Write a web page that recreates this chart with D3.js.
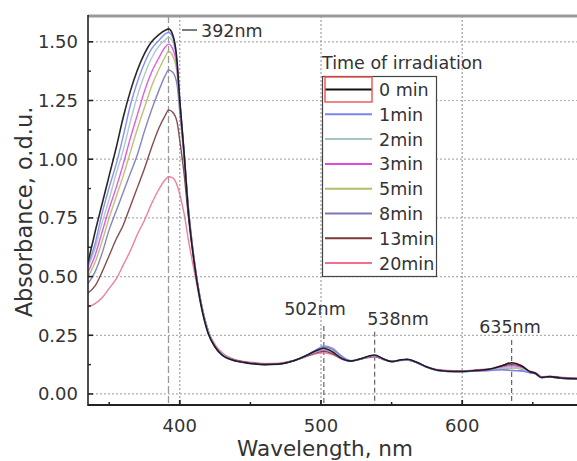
<!DOCTYPE html>
<html><head><meta charset="utf-8">
<script src="https://cdn.jsdelivr.net/npm/d3@7"></script>
<style>body{margin:0;background:#fff}svg{display:block}text{font-family:"DejaVu Sans",sans-serif;fill:#333}</style>
</head><body><svg id="c" width="577" height="461"></svg>
<script>
const wavelengths = [335,340,345,350,355,360,365,370,375,380,385,390,392,395,398,400,403,406,410,415,420,425,430,
  440,450,460,470,480,490,497,502,508,515,521,528,533,538,544,550,556,561,568,575,582,590,600,610,620,628,635,642,648,652,656,662,670,682];
const seriesNames = ["0 min","1min","2min","3min","5min","8min","13min","20min"];
const seriesColors = ["#111111","#7c84f0","#a4c4c8","#e048e0","#b4bc68","#7878b8","#783a3a","#f07090"];
const a0  = [0.56,0.69,0.81,0.93,1.05,1.18,1.29,1.38,1.45,1.50,1.53,1.55,1.555,1.53,1.42,1.25,1.03,0.78,0.57,0.38,0.26,0.20,0.165,
  0.140,0.130,0.125,0.127,0.140,0.165,0.185,0.195,0.180,0.150,0.140,0.150,0.160,0.166,0.150,0.138,0.145,0.148,0.135,0.115,0.102,0.097,0.096,0.100,0.106,0.120,0.133,0.120,0.095,0.088,0.070,0.074,0.068,0.065];
const a1  = [0.55,0.64,0.77,0.88,0.98,1.10,1.23,1.33,1.41,1.47,1.505,1.535,1.54,1.52,1.42,1.25,1.03,0.79,0.57,0.38,0.26,0.20,0.165,
  0.140,0.130,0.125,0.127,0.140,0.165,0.190,0.205,0.195,0.160,0.142,0.150,0.158,0.163,0.150,0.138,0.144,0.147,0.133,0.113,0.100,0.096,0.095,0.098,0.100,0.103,0.100,0.098,0.090,0.085,0.070,0.072,0.067,0.064];
const a2  = [0.54,0.62,0.73,0.83,0.94,1.04,1.16,1.27,1.36,1.43,1.48,1.51,1.52,1.50,1.41,1.25,1.04,0.80,0.58,0.39,0.27,0.20,0.17,
  0.141,0.131,0.126,0.128,0.140,0.163,0.182,0.190,0.178,0.150,0.140,0.149,0.158,0.163,0.149,0.137,0.144,0.147,0.134,0.114,0.101,0.097,0.096,0.099,0.103,0.110,0.115,0.108,0.092,0.086,0.070,0.073,0.067,0.065];
const a3  = [0.52,0.59,0.69,0.79,0.88,0.98,1.09,1.19,1.29,1.37,1.43,1.48,1.49,1.47,1.39,1.24,1.03,0.80,0.58,0.39,0.27,0.20,0.17,
  0.142,0.132,0.127,0.128,0.140,0.162,0.180,0.187,0.176,0.150,0.141,0.149,0.157,0.162,0.149,0.138,0.143,0.146,0.133,0.114,0.101,0.097,0.096,0.100,0.104,0.113,0.120,0.112,0.093,0.087,0.071,0.073,0.068,0.065];
const a5  = [0.50,0.56,0.65,0.75,0.84,0.93,1.03,1.13,1.22,1.31,1.38,1.44,1.46,1.44,1.37,1.23,1.03,0.80,0.58,0.39,0.27,0.20,0.17,
  0.141,0.131,0.126,0.128,0.141,0.164,0.183,0.190,0.178,0.151,0.141,0.150,0.158,0.163,0.150,0.138,0.144,0.147,0.134,0.114,0.101,0.096,0.095,0.099,0.102,0.107,0.110,0.105,0.091,0.086,0.070,0.072,0.067,0.064];
const a8  = [0.47,0.52,0.60,0.70,0.78,0.86,0.94,1.02,1.12,1.21,1.29,1.36,1.38,1.37,1.32,1.20,1.01,0.79,0.58,0.39,0.27,0.20,0.17,
  0.140,0.130,0.125,0.127,0.140,0.166,0.188,0.200,0.190,0.158,0.142,0.150,0.158,0.164,0.150,0.138,0.144,0.147,0.134,0.114,0.101,0.096,0.095,0.098,0.101,0.104,0.100,0.099,0.090,0.085,0.070,0.072,0.067,0.064];
const a13 = [0.43,0.46,0.52,0.59,0.66,0.72,0.80,0.88,0.96,1.05,1.13,1.19,1.21,1.20,1.16,1.08,0.94,0.76,0.57,0.39,0.27,0.20,0.17,
  0.143,0.133,0.128,0.129,0.141,0.161,0.176,0.182,0.172,0.149,0.141,0.149,0.156,0.160,0.148,0.138,0.143,0.145,0.133,0.115,0.102,0.098,0.097,0.101,0.106,0.118,0.125,0.116,0.094,0.088,0.072,0.074,0.069,0.066];
const a20 = [0.37,0.385,0.41,0.45,0.49,0.55,0.61,0.68,0.74,0.81,0.87,0.915,0.925,0.92,0.89,0.85,0.77,0.66,0.53,0.38,0.27,0.21,0.175,
  0.145,0.135,0.130,0.131,0.142,0.160,0.172,0.175,0.168,0.148,0.141,0.148,0.154,0.157,0.147,0.138,0.142,0.144,0.133,0.116,0.104,0.100,0.099,0.103,0.108,0.121,0.130,0.120,0.097,0.090,0.074,0.076,0.071,0.068];
const seriesValues = [a0,a1,a2,a3,a5,a8,a13,a20];
const xTicks = [400,500,600];
const xMinor = [350,450,550,650];
const yTicks = [0,0.25,0.5,0.75,1.0,1.25,1.5];
const yMinor = [0.125,0.375,0.625,0.875,1.125,1.375];
const peaks = [{nm:392,label:"392nm"},{nm:502,label:"502nm",top:0.29},{nm:538,label:"538nm",top:0.265},{nm:635,label:"635nm",top:0.23}];

const svg = d3.select("#c");
const L=88, R=578, T=16, B=405;
const x = d3.scaleLinear().domain([335,682]).range([L,R]);
const y = d3.scaleLinear().domain([-0.047,1.61]).range([B,T]);

svg.append("defs").append("clipPath").attr("id","clip").append("rect").attr("x",L).attr("y",T).attr("width",R-L).attr("height",B-T);

// grid
const g = svg.append("g");
g.selectAll(".hg").data(yTicks).join("line").attr("x1",L).attr("x2",R).attr("y1",d=>y(d)).attr("y2",d=>y(d))
 .attr("stroke","#b0b0b0").attr("stroke-width",1.2).attr("stroke-dasharray","2,2");
g.selectAll(".vg").data(xTicks).join("line").attr("y1",T).attr("y2",B).attr("x1",d=>x(d)).attr("x2",d=>x(d))
 .attr("stroke","#a0a0a0").attr("stroke-width",1.2).attr("stroke-dasharray","2,2");

// peak markers
svg.append("line").attr("x1",x(392)).attr("x2",x(392)).attr("y1",T).attr("y2",B)
 .attr("stroke","#999").attr("stroke-width",1.3).attr("stroke-dasharray","7,3");
peaks.slice(1).forEach(p=>{
  svg.append("line").attr("x1",x(p.nm)).attr("x2",x(p.nm)).attr("y1",y(p.top)).attr("y2",B)
   .attr("stroke","#666").attr("stroke-width",1.2).attr("stroke-dasharray","5,3");
});

// curves
const line = d3.line().x((d,i)=>x(wavelengths[i])).y(d=>y(d)).curve(d3.curveMonotoneX);
const cg = svg.append("g").attr("clip-path","url(#clip)");
for (let k=seriesValues.length-1;k>=0;k--){
  cg.append("path").attr("d",line(seriesValues[k])).attr("fill","none")
    .attr("stroke",seriesColors[k]).attr("stroke-width",k===0?1.6:1.4).attr("stroke-opacity",0.9);
}

// axes frame
svg.append("line").attr("x1",L).attr("x2",R).attr("y1",T).attr("y2",T).attr("stroke","#9a9a9a").attr("stroke-width",3);
svg.append("line").attr("x1",L).attr("x2",L).attr("y1",T-1).attr("y2",B+1).attr("stroke","#222").attr("stroke-width",1.6);
svg.append("line").attr("x1",L).attr("x2",R).attr("y1",B).attr("y2",B).attr("stroke","#222").attr("stroke-width",2);

// y axis ticks
const ya = svg.append("g").attr("transform",`translate(${L},0)`);
ya.selectAll(".yt").data(yTicks).join("line").attr("x1",0).attr("x2",5).attr("y1",d=>y(d)).attr("y2",d=>y(d)).attr("stroke","#222").attr("stroke-width",1.6);
ya.selectAll(".ym").data(yMinor).join("line").attr("x1",0).attr("x2",3).attr("y1",d=>y(d)).attr("y2",d=>y(d)).attr("stroke","#222").attr("stroke-width",1.4);
ya.selectAll(".yl").data(yTicks).join("text").attr("x",-10).attr("y",d=>y(d)).attr("dy","0.36em")
  .attr("text-anchor","end").attr("font-size",18).text(d=>d3.format(".2f")(d));

// x axis ticks
const xa = svg.append("g").attr("transform",`translate(0,${B})`);
xa.selectAll(".xt").data(xTicks).join("line").attr("x1",d=>x(d)).attr("x2",d=>x(d)).attr("y1",0).attr("y2",-5).attr("stroke","#222").attr("stroke-width",1.8);
xa.selectAll(".xm").data(xMinor).join("line").attr("x1",d=>x(d)).attr("x2",d=>x(d)).attr("y1",0).attr("y2",-3).attr("stroke","#222").attr("stroke-width",1.5);
xa.selectAll(".xl").data(xTicks).join("text").attr("x",d=>x(d)).attr("y",27).attr("text-anchor","middle").attr("font-size",18).text(d=>d);

// titles
svg.append("text").attr("x",325).attr("y",456).attr("text-anchor","middle").attr("font-size",21.5).text("Wavelength, nm");
svg.append("text").attr("transform","translate(32,212) rotate(-90)").attr("text-anchor","middle").attr("font-size",22.5).text("Absorbance, o.d.u.");

// peak labels
svg.append("line").attr("x1",182).attr("x2",197).attr("y1",30).attr("y2",30).attr("stroke","#333").attr("stroke-width",1.3);
svg.append("text").attr("x",201).attr("y",37).attr("font-size",17.5).text("392nm");
svg.append("text").attr("x",315).attr("y",315).attr("text-anchor","middle").attr("font-size",17.5).text("502nm");
svg.append("text").attr("x",398).attr("y",325).attr("text-anchor","middle").attr("font-size",17.5).text("538nm");
svg.append("text").attr("x",510).attr("y",333).attr("text-anchor","middle").attr("font-size",17.5).text("635nm");

// legend
const lg = svg.append("g");
lg.append("text").attr("x",322).attr("y",69).attr("font-size",17.5).text("Time of irradiation");
lg.append("rect").attr("x",322.5).attr("y",76.5).attr("width",114).attr("height",200).attr("fill","#fff").attr("stroke","#444").attr("stroke-width",1.2);
seriesNames.forEach((n,i)=>{
  const yy = 89.5 + i*24.8;
  lg.append("line").attr("x1",325).attr("x2",372).attr("y1",yy).attr("y2",yy).attr("stroke",seriesColors[i]).attr("stroke-width",2);
  lg.append("text").attr("x",379).attr("y",yy+6.5).attr("font-size",17.5).text(n);
});
lg.append("rect").attr("x",325).attr("y",77).attr("width",47).attr("height",25).attr("fill","none").attr("stroke","#f05050").attr("stroke-width",1.4);
</script></body></html>
